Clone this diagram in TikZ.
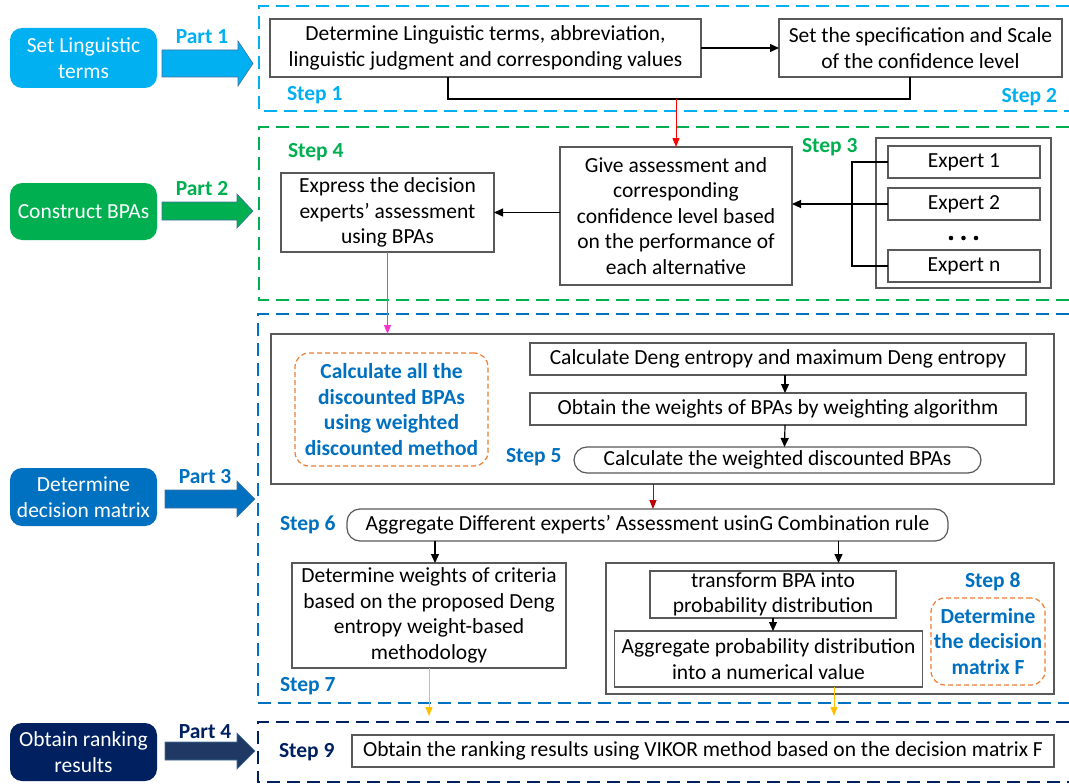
\documentclass[tikz,border=0pt]{standalone}
\usepackage{fontspec}
\setmainfont{Carlito}
\usetikzlibrary{arrows.meta,calc}
\definecolor{cyanc}{HTML}{00B0F0}
\definecolor{greenc}{HTML}{00B050}
\definecolor{bluec}{HTML}{0070C0}
\definecolor{navyc}{HTML}{002060}
\definecolor{navyarrow}{HTML}{203864}
\definecolor{orangec}{HTML}{ED7D31}
\definecolor{yellowc}{HTML}{FFC000}
\definecolor{darkredc}{HTML}{C00000}
\definecolor{magentac}{HTML}{FF33CC}
\definecolor{boxgray}{HTML}{595959}
\definecolor{arrowedge}{HTML}{41719C}
\begin{document}
\begin{tikzpicture}[x=1pt,y=-1pt,
 every node/.style={font=\fontsize{21.5}{25.5}\selectfont, inner sep=0pt, outer sep=0pt},
 box/.style={draw=boxgray, line width=1.2pt, fill=white, align=center},
 pill/.style={box, rounded corners=13pt},
 leftbox/.style={rounded corners=12pt, text=white, align=center, minimum width=147pt},
 region/.style={line width=2pt, dash pattern=on 13pt off 7pt},
 steplbl/.style={font=\fontsize{21.5}{25.5}\selectfont\bfseries, anchor=west},
 partlbl/.style={font=\fontsize{21.5}{25.5}\selectfont\bfseries},
 conn/.style={line width=1.2pt, -{Triangle[length=9pt,width=8pt]}},
 orangebox/.style={draw=orangec, dash pattern=on 5pt off 3pt, line width=1.2pt, rounded corners=14pt, text=bluec, font=\fontsize{21.5}{25.5}\selectfont\bfseries, align=center},
 blockarrow/.style={draw=arrowedge, line width=0.6pt}
]
\useasboundingbox (0,0) rectangle (1069,784);

% ---------- left column ----------
\node[leftbox, fill=cyanc, minimum height=60pt] (l1) at (83.5,58) {Set Linguistic\\terms};
\node[leftbox, fill=greenc, minimum height=57pt] (l2) at (83.5,211.5) {Construct BPAs};
\node[leftbox, fill=bluec, minimum height=58pt] (l3) at (83.5,497) {Determine\\decision matrix};
\node[leftbox, fill=navyc, minimum height=58pt] (l4) at (83.5,752) {Obtain ranking\\results};

% block arrows
\draw[blockarrow, fill=cyanc] (162,50) -- (238,50) -- (238,41) -- (253,63.5) -- (238,86) -- (238,77) -- (162,77) -- cycle;
\draw[blockarrow, fill=greenc] (162,202) -- (237,202) -- (237,194) -- (253,211) -- (237,228) -- (237,220) -- (162,220) -- cycle;
\draw[blockarrow, fill=bluec] (165,490) -- (237,490) -- (237,481) -- (255,499) -- (237,517) -- (237,508) -- (165,508) -- cycle;
\draw[blockarrow, fill=navyarrow] (165,742) -- (237,742) -- (237,733) -- (255,751) -- (237,769) -- (237,760) -- (165,760) -- cycle;

\node[partlbl, text=cyanc] (p1) at (202,37) {Part 1};
\node[partlbl, text=greenc] (p2) at (202,189) {Part 2};
\node[partlbl, text=bluec] (p3) at (205,477) {Part 3};
\node[partlbl, text=navyc] (p4) at (205,732) {Part 4};

% ---------- dashed regions ----------
\draw[region, cyanc] (1069,6) -- (259,6) -- (259,111) -- (1069,111);
\draw[region, greenc] (1069,127) -- (259,127) -- (259,300) -- (1069,300);
\draw[region, bluec] (1069,314) -- (258,314) -- (258,703) -- (1069,703);
\draw[region, navyc] (1069,722) -- (258,722) -- (258,782) -- (1069,782);

% ---------- region 1 ----------
\node[box, minimum width=431pt, minimum height=58pt] (boxA) at (485.5,48) {Determine Linguistic terms, abbreviation,\\linguistic judgment and corresponding values};
\node[box, minimum width=283pt, minimum height=58pt] (boxB) at (920.5,48) {Set the specification and Scale\\of the confidence level};
\draw[conn] (boxA.east) -- (boxB.west);
\coordinate (j1) at (448,99);
\coordinate (j2) at (910,99);
\coordinate (jr) at (676,99);
\draw[line width=1.2pt] (boxA.south -| j1) -- (j1) -- (j2) -- (boxB.south -| j2);
\node[steplbl, text=cyanc] (st1) at (287,95) {Step 1};
\node[steplbl, text=cyanc, anchor=east] (st2) at (1057,97) {Step 2};

% ---------- region 2 ----------
\node[box, minimum width=232pt, minimum height=138pt] (give) at (676,216) {Give assessment and\\corresponding\\confidence level based\\on the performance of\\each alternative};
\node[box, minimum width=213pt, minimum height=79pt] (express) at (387.5,212.5) {Express the decision\\experts’ assessment\\using BPAs};
\draw[conn] (give.west |- express.east) -- (express.east);
\draw[line width=1pt, red, -{Triangle[length=9pt,width=7pt]}] (jr) -- (jr |- give.north);
\node[steplbl, text=greenc] (st3) at (802,147) {Step 3};
\node[steplbl, text=greenc] (st4) at (288,152) {Step 4};
\node[box, minimum width=175pt, minimum height=150pt] (experts) at (963.5,213) {};
\node[box, minimum width=152pt, minimum height=32pt] (e1) at (964,162) {Expert 1};
\node[box, minimum width=152pt, minimum height=32pt] (e2) at (964,204) {Expert 2};
\node[box, minimum width=152pt, minimum height=32pt] (en) at (964,266) {Expert n};
\fill (951,238) circle (2.3pt) (963.5,238) circle (2.3pt) (976,238) circle (2.3pt);
\coordinate (bk) at (852,0);
\draw[line width=1.2pt] (e1.west) -- (e1.west -| bk) -- (en.west -| bk) -- (en.west);
\draw[conn] (e2.west) -- (give.east |- e2.west);

% ---------- region 3 ----------
\node[box, minimum width=783pt, minimum height=150pt] (box5) at (662.5,409) {};
\draw[line width=1pt, magentac, -{Triangle[length=9pt,width=7pt]}] (express.south) -- (express.south |- box5.north);
\node[orangebox, minimum width=193pt, minimum height=113pt] (or1) at (391.5,409.5) {Calculate all the\\discounted BPAs\\using weighted\\discounted method};
\node[box, minimum width=496pt, minimum height=32pt] (cd) at (778,359) {Calculate Deng entropy and maximum Deng entropy};
\node[box, minimum width=496pt, minimum height=32pt] (ow) at (778,409) {Obtain the weights of BPAs by weighting algorithm};
\node[pill, minimum width=407pt, minimum height=26pt] (cw) at (777.5,460) {Calculate the weighted discounted BPAs};
\draw[conn] ([xshift=7pt]cd.south) -- ([xshift=7pt]ow.north);
\draw[conn] ([xshift=7pt]ow.south) -- ([xshift=7pt]cw.north);
\node[steplbl, text=bluec] (st5) at (506,457) {Step 5};

\node[pill, minimum width=601pt, minimum height=32pt] (s6) at (647.5,525) {Aggregate Different experts’ Assessment usinG Combination rule};
\coordinate (xr) at (653,0);
\draw[line width=1pt, darkredc, -{Triangle[length=9pt,width=7pt]}] (box5.south -| xr) -- (s6.north -| xr);
\node[steplbl, text=bluec] (st6) at (280,525) {Step 6};

\node[box, minimum width=274pt, minimum height=105pt] (box7) at (429,615.5) {Determine weights of criteria\\based on the proposed Deng\\entropy weight-based\\methodology};
\coordinate (x7) at (435,0);
\draw[conn] (s6.south -| x7) -- (box7.north -| x7);
\node[steplbl, text=bluec] (st7) at (280,686) {Step 7};

\node[box, minimum width=448pt, minimum height=131pt] (box8) at (830,628.5) {};
\coordinate (x8) at (838.5,0);
\draw[conn] (s6.south -| x8) -- (box8.north -| x8);
\node[box, minimum width=246pt, minimum height=47pt] (tb) at (773,594.5) {transform BPA into\\probability distribution};
\node[box, minimum width=308pt, minimum height=56pt] (ap) at (768.5,659) {Aggregate probability distribution\\into a numerical value};
\draw[conn] (tb.south) -- (tb.south |- ap.north);
\node[steplbl, text=bluec] (st8) at (965,582) {Step 8};
\node[orangebox, minimum width=114pt, minimum height=87pt] (or2) at (988,641.5) {Determine\\the decision\\matrix F};

% ---------- region 4 ----------
\node[box, minimum width=702pt, minimum height=32pt] (s9) at (703,751) {Obtain the ranking results using VIKOR method based on the decision matrix F};
\node[steplbl, text=navyc] (st9) at (279,752) {Step 9};
\coordinate (ya) at (834,0);
\draw[line width=1pt, yellowc, -{Triangle[length=9pt,width=7pt]}, shorten >=19pt] (box7.south) -- (box7.south |- s9.north);
\draw[line width=1pt, yellowc, -{Triangle[length=9pt,width=7pt]}, shorten >=19pt] (ap.south -| ya) -- (s9.north -| ya);
\end{tikzpicture}
\end{document}
